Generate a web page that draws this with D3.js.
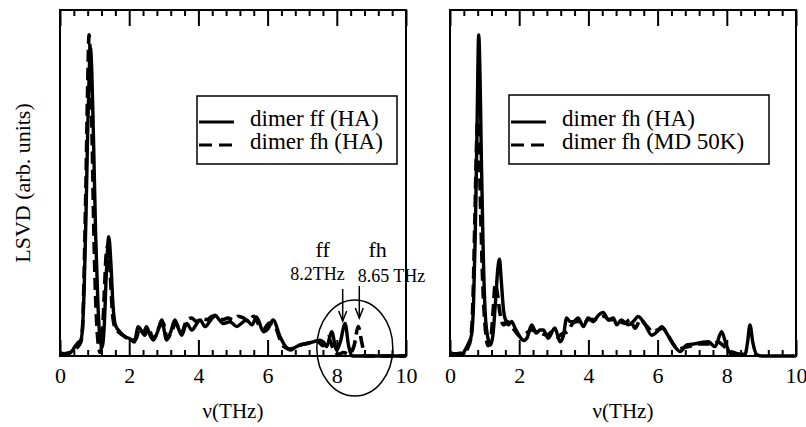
<!DOCTYPE html>
<html>
<head>
<meta charset="utf-8">
<script src="https://cdn.jsdelivr.net/npm/d3@7"></script>
<style>
  body { margin: 0; background: #fff; }
  svg { display: block; }
  svg text { font-family: "Liberation Serif", "Times New Roman", serif !important; fill: #000; }
</style>
</head>
<body>
<svg id="chart" width="806" height="427"></svg>
<script>
// frequency axis ticks
var xTicks = [0, 2, 4, 6, 8, 10];

// left panel: dimer ff (HA) solid, dimer fh (HA) dashed
var ffHaX = [0, 0.2, 0.35, 0.45, 0.53, 0.6, 0.65, 0.7, 0.75, 0.8, 0.85, 0.88, 0.92, 0.97, 1.03, 1.1, 1.17, 1.22, 1.28, 1.34, 1.41, 1.47, 1.53, 1.6, 1.73, 1.88, 2.02, 2.15, 2.26, 2.41, 2.5, 2.6, 2.7, 2.82, 2.94, 3.08, 3.2, 3.32, 3.42, 3.52, 3.66, 3.81, 3.93, 4.05, 4.19, 4.33, 4.48, 4.6, 4.72, 4.91, 5.11, 5.25, 5.39, 5.55, 5.68, 5.88, 6.02, 6.16, 6.36, 6.5, 6.65, 6.8, 6.94, 7.13, 7.32, 7.51, 7.62, 7.71, 7.85, 8.0, 8.1, 8.24, 8.34, 8.44, 9, 10];
var ffHaY = [1, 0.5, 1.5, 3, 4, 4.5, 8, 20, 40, 65, 84, 89, 82, 62, 35, 14, 4, 2.6, 9, 24, 34.5, 27, 15, 9, 7, 5.5, 5, 4, 8.5, 6.6, 8.5, 6, 4.6, 7, 10.4, 4.6, 7, 10.4, 8, 6, 9.4, 7.5, 9, 10.4, 8.5, 10, 11.8, 10.5, 9.4, 9.9, 8.5, 9.5, 10.4, 9, 11.3, 7, 8, 10.4, 5.6, 3, 1.7, 2.5, 3.2, 3.5, 4.1, 4.6, 4, 2.7, 7, 1.7, 4, 9.4, 3, 0, 0, 0];

var fhHaX = [0, 0.3, 0.5, 0.6, 0.65, 0.7, 0.75, 0.8, 0.84, 0.88, 0.93, 0.98, 1.04, 1.1, 1.16, 1.22, 1.28, 1.34, 1.39, 1.45, 1.52, 1.6, 1.75, 1.9, 2.05, 2.2, 2.3, 2.45, 2.55, 2.7, 2.85, 2.98, 3.1, 3.22, 3.35, 3.5, 3.65, 3.8, 3.95, 4.1, 4.25, 4.4, 4.55, 4.7, 4.85, 5.0, 5.15, 5.3, 5.45, 5.6, 5.75, 5.9, 6.05, 6.2, 6.35, 6.5, 6.65, 6.9, 7.2, 7.45, 7.6, 7.75, 7.9, 8.05, 8.2, 8.35, 8.5, 8.62, 8.72, 8.82, 10];
var fhHaY = [0.5, 1, 2.5, 4, 8, 25, 50, 78, 92.8, 85, 62, 35, 14, 4, 1, 5, 18, 30, 32, 24, 12, 8, 6.5, 5.5, 4.5, 5, 8, 6, 8, 5, 8, 9.5, 5, 7, 9.5, 6.5, 10, 11, 10, 11, 10.5, 11.5, 11, 10.5, 11, 10.5, 11.5, 11, 10, 11.5, 9, 8, 9.5, 9, 5, 2.5, 2, 3, 3.8, 4.2, 3, 5.5, 2, 0.5, 1, 0.5, 3, 8.5, 4, 0, 0];

// right panel: dimer fh (HA) solid, dimer fh (MD 50K) dashed
var fhHa2X = [0, 0.2, 0.35, 0.45, 0.55, 0.62, 0.68, 0.73, 0.78, 0.83, 0.87, 0.91, 0.96, 1.02, 1.1, 1.17, 1.24, 1.31, 1.38, 1.43, 1.48, 1.55, 1.62, 1.69, 1.78, 1.88, 2.02, 2.12, 2.22, 2.36, 2.5, 2.6, 2.7, 2.84, 3.03, 3.18, 3.28, 3.37, 3.46, 3.56, 3.7, 3.86, 3.99, 4.14, 4.29, 4.43, 4.58, 4.72, 4.82, 4.95, 5.15, 5.3, 5.44, 5.64, 5.83, 5.98, 6.12, 6.26, 6.38, 6.5, 6.65, 6.84, 7.0, 7.13, 7.3, 7.47, 7.66, 7.85, 8.0, 8.14, 8.33, 8.53, 8.6, 8.67, 8.75, 8.86, 9, 10];
var fhHa2Y = [1, 0.5, 0.5, 2, 4, 6, 15, 35, 65, 92.8, 80, 55, 30, 12, 5, 3.2, 6, 15, 25, 28, 22, 13, 10, 9, 10, 8.1, 5.6, 4.5, 5.1, 9, 6.6, 7.5, 7.5, 5.1, 8.1, 4.1, 6, 11, 10, 9.9, 11, 8.5, 11, 9.9, 11.8, 12.6, 10.4, 11, 9, 10.4, 9, 10, 11.4, 9, 6, 7, 8.5, 6.6, 4.5, 2.7, 1.3, 3.2, 3.4, 3.6, 4, 4.1, 2.7, 7, 2.7, 0.3, 0.5, 0.5, 4, 9, 4, 0.5, 0, 0];

var fhMdX = [0, 0.4, 0.5, 0.6, 0.66, 0.72, 0.77, 0.8, 0.84, 0.89, 0.95, 1.02, 1.1, 1.17, 1.24, 1.31, 1.37, 1.45, 1.55, 1.65, 1.75, 1.9, 2.05, 2.2, 2.35, 2.5, 2.65, 2.8, 2.95, 3.1, 3.25, 3.4, 3.55, 3.7, 3.85, 4.0, 4.15, 4.3, 4.45, 4.6, 4.75, 4.9, 5.05, 5.2, 5.35, 5.5, 5.7, 5.85, 6.0, 6.15, 6.3, 6.45, 6.6, 6.8, 7.0, 7.2, 7.4, 7.6, 7.75, 7.9, 8.05, 8.2, 8.35];
var fhMdY = [0.5, 1, 2, 5, 15, 40, 62, 68, 60, 40, 20, 8, 3, 4, 12, 21, 18, 12, 9, 10, 9, 7, 5.5, 6.5, 7.5, 7, 6.5, 6, 7, 5.5, 6.5, 7, 9.5, 10, 9.5, 10.5, 10.5, 11, 11.5, 10.5, 10.5, 10, 9.5, 10.5, 8, 10.5, 8.5, 7, 7.5, 8, 6, 3.5, 2, 2.5, 3, 3.5, 3.5, 3.5, 4, 3, 1.5, 1, 0.5];

var leftLabels = ["dimer ff (HA)", "dimer fh (HA)"];
var rightLabels = ["dimer fh (HA)", "dimer fh (MD 50K)"];

var svg = d3.select("#chart");
var pw = 346, ph = 346, topY = 10;

var x = d3.scaleLinear().domain([0, 10]).range([0, pw]);
var y = d3.scaleLinear().domain([0, 100]).range([ph, 0]);

function zip(xs, ys) { return xs.map(function(v, i) { return [v, ys[i]]; }); }

var line = d3.line()
  .x(function(d) { return x(d[0]); })
  .y(function(d) { return y(d[1]); })
  .curve(d3.curveMonotoneX);

function panel(left, solid, dashed, labels, legendBox) {
  var g = svg.append("g").attr("transform", "translate(" + left + "," + topY + ")");

  var minor = d3.range(0, 10.01, 0.4).filter(function(t) { return Math.abs(t / 2 - Math.round(t / 2)) > 0.01; });

  // bottom axis with inward ticks, mirrored on top
  var bMaj = g.append("g").attr("transform", "translate(0," + ph + ")")
    .call(d3.axisBottom(x).tickValues(xTicks).tickSizeInner(-16).tickSizeOuter(0).tickPadding(11).tickFormat(d3.format("d")));
  g.append("g").attr("transform", "translate(0," + ph + ")")
    .call(d3.axisBottom(x).tickValues(minor).tickSizeInner(-6).tickSizeOuter(0).tickFormat(""));
  g.append("g").call(d3.axisTop(x).tickValues(xTicks).tickSizeInner(-16).tickSizeOuter(0).tickFormat(""));
  g.append("g").call(d3.axisTop(x).tickValues(minor).tickSizeInner(-6).tickSizeOuter(0).tickFormat(""));
  g.selectAll(".domain").remove();
  g.selectAll(".tick line").attr("stroke", "#000").attr("stroke-width", 2);
  bMaj.selectAll("text").style("font-size", "22px");

  g.append("rect").attr("width", pw).attr("height", ph)
    .attr("fill", "none").attr("stroke", "#000").attr("stroke-width", 2);

  g.append("path").datum(solid).attr("d", line)
    .attr("fill", "none").attr("stroke", "#000").attr("stroke-width", 3.4).attr("stroke-linejoin", "round");
  g.append("path").datum(dashed).attr("d", line)
    .attr("fill", "none").attr("stroke", "#000").attr("stroke-width", 3.6).attr("stroke-dasharray", "12,6");

  g.append("text").attr("x", pw / 2).attr("y", ph + 62).attr("text-anchor", "middle")
    .style("font-size", "21px").text("\u03bd(THz)");

  // legend
  var lg = svg.append("g");
  lg.append("rect").attr("x", legendBox[0]).attr("y", legendBox[1]).attr("width", legendBox[2]).attr("height", legendBox[3])
    .attr("fill", "#fff").attr("stroke", "#000").attr("stroke-width", 1.5);
  labels.forEach(function(lab, i) {
    var ly = 122 + i * 23;
    lg.append("line").attr("x1", legendBox[0] + 2).attr("x2", legendBox[0] + 37).attr("y1", ly).attr("y2", ly)
      .attr("stroke", "#000").attr("stroke-width", 3.2).attr("stroke-dasharray", i ? "13,7" : null);
    lg.append("text").attr("x", legendBox[0] + 53).attr("y", ly + 4)
      .style("font-size", "23px").text(lab);
  });
  return g;
}

var gl = panel(60, zip(ffHaX, ffHaY), zip(fhHaX, fhHaY), leftLabels, [197, 96, 200, 68]);
panel(450, zip(fhHa2X, fhHa2Y), zip(fhMdX, fhMdY), rightLabels, [509, 95, 260, 69]);

// y axis title
svg.append("text").attr("transform", "translate(30,183) rotate(-90)").attr("text-anchor", "middle")
  .style("font-size", "22px").text("LSVD (arb. units)");

// annotations in the left panel
gl.append("text").attr("x", x(7.59)).attr("y", 247).attr("text-anchor", "middle").style("font-size", "22px").text("ff");
gl.append("text").attr("x", x(7.44)).attr("y", 270).attr("text-anchor", "middle").style("font-size", "18px").text("8.2THz");
gl.append("text").attr("x", x(9.18)).attr("y", 247).attr("text-anchor", "middle").style("font-size", "22px").text("fh");
gl.append("text").attr("x", x(9.58)).attr("y", 272).attr("text-anchor", "middle").style("font-size", "18px").text("8.65 THz");

[[8.17, 279], [8.65, 276]].forEach(function(a) {
  var ax = x(a[0]), y0 = a[1], y1 = y0 + 32;
  gl.append("line").attr("x1", ax).attr("x2", ax).attr("y1", y0).attr("y2", y1).attr("stroke", "#000").attr("stroke-width", 1.5);
  gl.append("path").attr("d", "M" + (ax - 4) + "," + (y1 - 10) + "L" + ax + "," + y1 + "L" + (ax + 4) + "," + (y1 - 10))
    .attr("fill", "none").attr("stroke", "#000").attr("stroke-width", 1.5);
});

gl.append("ellipse").attr("cx", x(8.52)).attr("cy", 338).attr("rx", 38).attr("ry", 48)
  .attr("fill", "none").attr("stroke", "#000").attr("stroke-width", 1.5);
</script>
</body>
</html>
